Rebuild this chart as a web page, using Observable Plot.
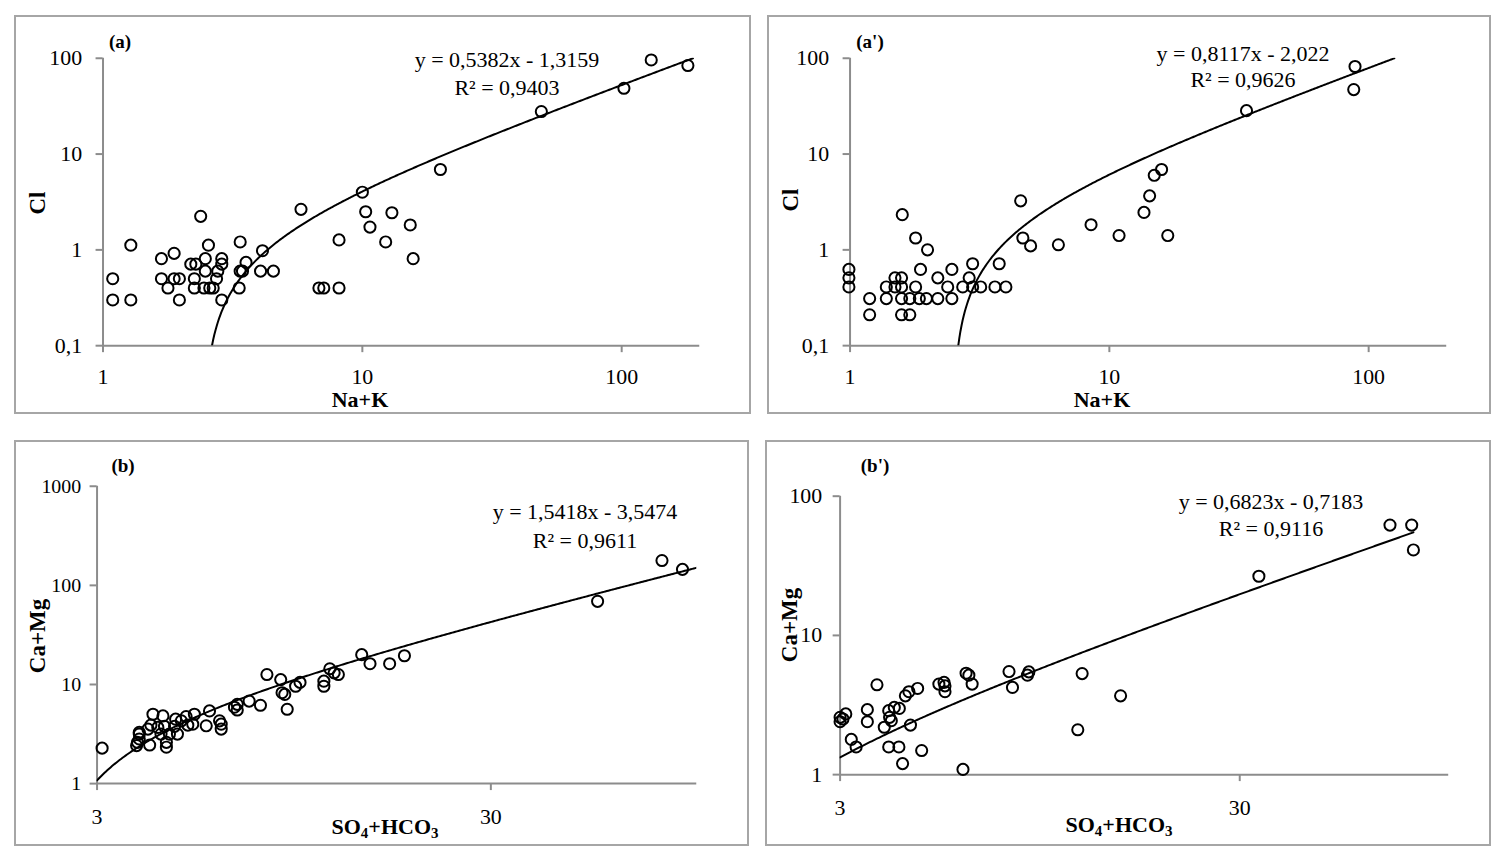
<!DOCTYPE html>
<html>
<head>
<meta charset="utf-8">
<script src="https://cdn.jsdelivr.net/npm/d3@7"></script>
<script src="https://cdn.jsdelivr.net/npm/@observablehq/plot@0.6"></script>
<style>
  html, body { margin: 0; padding: 0; background: #fff; }
  body { width: 1500px; height: 860px; position: relative; overflow: hidden; font-family: "Liberation Serif", "DejaVu Serif", serif; color: #000; }
  .panel { position: absolute; border: 2px solid #a6a6a6; box-sizing: border-box; background: #fff; }
  .panel svg { position: absolute; left: -2px; top: -2px; }
  .lbl { position: absolute; white-space: nowrap; line-height: 1; transform: translate(-50%, -50%); }
  .lbl sub { font-size: 0.68em; vertical-align: -0.25em; line-height: 0; }
</style>
</head>
<body>
<script>
// ---------- Data ----------
// Panel (a): Cl vs Na+K
const naK_a = [1.09,1.09,1.28,1.28,1.68,1.68,1.78,1.88,1.88,1.97,1.97,2.18,2.25,2.25,2.28,2.38,2.45,2.48,2.48,2.55,2.58,2.66,2.74,2.77,2.87,2.87,2.87,3.35,3.38,3.38,3.45,3.56,4.12,4.05,4.54,5.8,6.8,7.1,8.13,8.13,10,10.3,10.7,12.3,13.0,15.3,15.7,20,49,102,130,180];
const cl_a  = [0.5,0.3,1.12,0.3,0.81,0.5,0.4,0.92,0.5,0.5,0.3,0.71,0.5,0.4,0.71,2.24,0.4,0.81,0.6,1.12,0.4,0.4,0.5,0.6,0.81,0.71,0.3,0.4,1.21,0.6,0.6,0.74,0.98,0.6,0.6,2.65,0.4,0.4,1.27,0.4,4.0,2.5,1.73,1.21,2.44,1.82,0.81,6.9,27.8,48.6,96,84];

// Panel (a'): Cl vs Na+K
const naK_a2 = [0.99,0.99,0.99,1.19,1.19,1.38,1.38,1.49,1.49,1.58,1.58,1.58,1.58,1.59,1.70,1.70,1.79,1.79,1.87,1.85,1.97,1.99,2.18,2.18,2.38,2.47,2.47,2.72,2.88,2.97,2.97,3.19,3.62,3.99,3.76,4.55,4.64,4.97,6.36,8.5,10.9,13.6,14.3,14.9,15.9,16.8,33.8,88.6,87.6];
const cl_a2  = [0.625,0.51,0.41,0.31,0.21,0.41,0.31,0.51,0.41,0.51,0.41,0.31,0.21,2.33,0.31,0.21,0.41,1.33,0.625,0.31,0.31,1.0,0.51,0.31,0.41,0.625,0.31,0.41,0.51,0.716,0.41,0.41,0.41,0.41,0.716,3.25,1.33,1.1,1.13,1.83,1.41,2.46,3.66,6.0,6.9,1.41,28.4,82,47.1];

// Panel (b): Ca+Mg vs SO4+HCO3
const so4hco3_b = [3.09,3.78,3.84,3.84,3.84,3.8,4.08,4.16,4.41,4.11,4.28,4.45,4.75,4.72,4.91,5.05,5.30,5.25,5.1,4.8,4.58,4.36,4.5,4.5,4.04,5.68,5.79,6.14,6.2,6.2,6.81,6.81,6.7,7.3,7.8,8.1,8.78,8.85,8.99,9.12,9.58,9.83,11.3,11.3,11.7,12.0,12.3,14.1,14.8,16.6,18.1,56,81.6,92];
const camg_b    = [2.28,2.42,2.82,3.16,3.29,2.61,2.45,5.01,4.82,3.89,3.69,3.78,4.47,3.78,4.3,4.75,5.01,3.98,3.89,3.16,3.16,3.16,2.61,2.33,3.55,3.83,5.41,4.3,3.98,3.55,6.31,5.53,5.9,6.8,6.17,12.6,11.2,8.26,7.94,5.62,9.6,10.5,10.8,9.6,14.4,13.1,12.6,20,16.2,16.2,19.5,69,178,145];

// Panel (b'): Ca+Mg vs SO4+HCO3
const so4hco3_b2 = [3.0,3.0,3.1,3.05,3.2,3.29,3.51,3.51,3.71,3.87,3.97,3.99,4.03,4.1,4.22,3.97,4.21,4.3,4.37,4.46,4.69,4.5,4.8,5.30,5.46,5.49,5.49,6.09,6.2,6.3,6.42,7.94,8.1,8.83,8.9,12.1,11.8,15.1,33.5,71.3,80.8,81.6];
const camg_b2    = [2.58,2.4,2.73,2.51,1.79,1.58,2.93,2.4,4.42,2.19,2.88,2.58,2.44,3.04,2.99,1.58,1.58,1.2,3.68,3.94,4.16,2.27,1.49,4.47,4.6,4.34,3.94,1.09,5.35,5.18,4.47,5.5,4.23,5.18,5.47,5.32,2.1,3.68,26.6,62,62,41.1];

// Ticks
const xTicks_a = [1, 10, 100];
const xTickLabels_a = ["1", "10", "100"];
const yTicks_a = [0.1, 1, 10, 100];
const yTickLabels_a = ["0,1", "1", "10", "100"];
const xTicks_b = [3, 30];
const xTickLabels_b = ["3", "30"];
const yTicks_b = [1, 10, 100, 1000];
const yTickLabels_b = ["1", "10", "100", "1000"];
const yTicks_b2 = [1, 10, 100];
const yTickLabels_b2 = ["1", "10", "100"];

// Trend lines (as printed on the chart)
const trendSlope = [0.5382, 0.8117, 1.5418, 0.6823];
const trendIntercept = [-1.3159, -2.022, -3.5474, -0.7183];
const equationText = ["y = 0,5382x - 1,3159", "y = 0,8117x - 2,022", "y = 1,5418x - 3,5474", "y = 0,6823x - 0,7183"];
const r2Text = ["R² = 0,9403", "R² = 0,9626", "R² = 0,9611", "R² = 0,9116"];
const panelLabels = ["(a)", "(a')", "(b)", "(b')"];
const xTitles = ["Na+K", "Na+K", "SO<sub>4</sub>+HCO<sub>3</sub>", "SO<sub>4</sub>+HCO<sub>3</sub>"];
const yTitles = ["Cl", "Cl", "Ca+Mg", "Ca+Mg"];

// ---------- Layout ----------
const GRAY = "#8c8c8c";
const FONT = "Liberation Serif, DejaVu Serif, serif";

const panels = [
  { box: {l: 14, t: 15, w: 737, h: 399}, frame: {x0: 103, x1: 703, y0: 58, y1: 347},
    xDomain: [1, 200], yDomain: [0.1, 100], xTicks: xTicks_a, xLabels: xTickLabels_a, yTicks: yTicks_a, yLabels: yTickLabels_a,
    xs: naK_a, ys: cl_a, trendRange: "y", yPad: 14, yFont: 22, xPad: 16,
    eq: {cx: 507, cy: 60, cy2: 88}, pl: {cx: 120, cy: 41}, xt: {cx: 360, cy: 400}, yt: {cx: 37, cy: 203} },
  { box: {l: 767, t: 15, w: 724, h: 399}, frame: {x0: 850, x1: 1450, y0: 58, y1: 347},
    xDomain: [1, 200], yDomain: [0.1, 100], xTicks: xTicks_a, xLabels: xTickLabels_a, yTicks: yTicks_a, yLabels: yTickLabels_a,
    xs: naK_a2, ys: cl_a2, trendRange: "y", yPad: 14, yFont: 22, xPad: 16,
    eq: {cx: 1243, cy: 54, cy2: 80}, pl: {cx: 870, cy: 41}, xt: {cx: 1102, cy: 400}, yt: {cx: 790, cy: 200} },
  { box: {l: 14, t: 440, w: 735, h: 406}, frame: {x0: 97, x1: 700, y0: 486, y1: 785},
    xDomain: [3, 100], yDomain: [1, 1000], xTicks: xTicks_b, xLabels: xTickLabels_b, yTicks: yTicks_b, yLabels: yTickLabels_b,
    xs: so4hco3_b, ys: camg_b, trendRange: "domain", yPad: 9, yFont: 20, xPad: 18,
    eq: {cx: 585, cy: 512, cy2: 541}, pl: {cx: 123, cy: 465}, xt: {cx: 385, cy: 827}, yt: {cx: 37, cy: 636} },
  { box: {l: 765, t: 440, w: 726, h: 406}, frame: {x0: 840, x1: 1452, y0: 496, y1: 776},
    xDomain: [3, 100], yDomain: [1, 100], xTicks: xTicks_b, xLabels: xTickLabels_b, yTicks: yTicks_b2, yLabels: yTickLabels_b2,
    xs: so4hco3_b2, ys: camg_b2, trendRange: "data", yPad: 11, yFont: 22, xPad: 18,
    eq: {cx: 1271, cy: 502, cy2: 529}, pl: {cx: 875, cy: 465}, xt: {cx: 1119, cy: 825}, yt: {cx: 789, cy: 625} }
];

function addLabel(html, cx, cy, style) {
  const d = document.createElement("div");
  d.className = "lbl";
  d.innerHTML = html;
  d.style.left = cx + "px";
  d.style.top = cy + "px";
  Object.assign(d.style, style || {});
  document.body.appendChild(d);
  return d;
}

panels.forEach((p, i) => {
  const m = trendSlope[i], b = trendIntercept[i];
  let xa, xb;
  if (p.trendRange === "y") {
    xa = (p.yDomain[0] - b) / m;
    xb = Math.min(p.xDomain[1], (p.yDomain[1] - b) / m);
  } else if (p.trendRange === "domain") {
    xa = p.xDomain[0]; xb = p.xDomain[1];
  } else {
    xa = p.xDomain[0]; xb = d3.max(p.xs);
  }
  const n = 400;
  const trend = d3.range(n + 1).map(k => {
    const x = Math.exp(Math.log(xa) + (Math.log(xb) - Math.log(xa)) * k / n);
    return {x, y: m * x + b};
  }).filter(d => d.y >= p.yDomain[0] * 0.999);

  const pts = p.xs.map((x, k) => ({x, y: p.ys[k]}));

  const W = p.box.w, H = p.box.h;
  const chart = Plot.plot({
    width: W,
    height: H,
    marginLeft: p.frame.x0 - p.box.l,
    marginRight: p.box.l + W - p.frame.x1,
    marginTop: p.frame.y0 - p.box.t,
    marginBottom: p.box.t + H - p.frame.y1,
    style: {fontFamily: FONT, fontSize: "22px", background: "transparent", overflow: "visible"},
    x: {type: "log", domain: p.xDomain},
    y: {type: "log", domain: p.yDomain},
    marks: [
      Plot.axisX(p.xTicks, {tickSize: 7, tickPadding: p.xPad, stroke: GRAY, strokeWidth: 2, fill: "black",
        tickFormat: d => p.xLabels[p.xTicks.indexOf(d)], fontSize: 22, label: null}),
      Plot.axisY(p.yTicks, {tickSize: 7, tickPadding: p.yPad, stroke: GRAY, strokeWidth: 2, fill: "black",
        tickFormat: d => p.yLabels[p.yTicks.indexOf(d)], fontSize: p.yFont, label: null}),
      Plot.ruleX([p.xDomain[0]], {stroke: GRAY, strokeWidth: 2}),
      Plot.ruleY([p.yDomain[0]], {stroke: GRAY, strokeWidth: 2}),
      Plot.line(trend, {x: "x", y: "y", stroke: "#000", strokeWidth: 2, clip: true}),
      Plot.dot(pts, {x: "x", y: "y", r: 5.6, stroke: "#000", strokeWidth: 2, fill: "none"})
    ]
  });

  const div = document.createElement("div");
  div.className = "panel";
  div.style.left = p.box.l + "px";
  div.style.top = p.box.t + "px";
  div.style.width = W + "px";
  div.style.height = H + "px";
  div.appendChild(chart);
  document.body.appendChild(div);

  // Texts
  addLabel(equationText[i], p.eq.cx, p.eq.cy, {fontSize: "22px"});
  addLabel(r2Text[i], p.eq.cx, p.eq.cy2, {fontSize: "22px"});
  addLabel(panelLabels[i], p.pl.cx, p.pl.cy, {fontSize: "19px", fontWeight: "bold"});
  addLabel(xTitles[i], p.xt.cx, p.xt.cy, {fontSize: "22px", fontWeight: "bold"});
  addLabel(yTitles[i], p.yt.cx, p.yt.cy, {fontSize: "23px", fontWeight: "bold", transform: "translate(-50%, -50%) rotate(-90deg)"});
});
</script>
</body>
</html>
